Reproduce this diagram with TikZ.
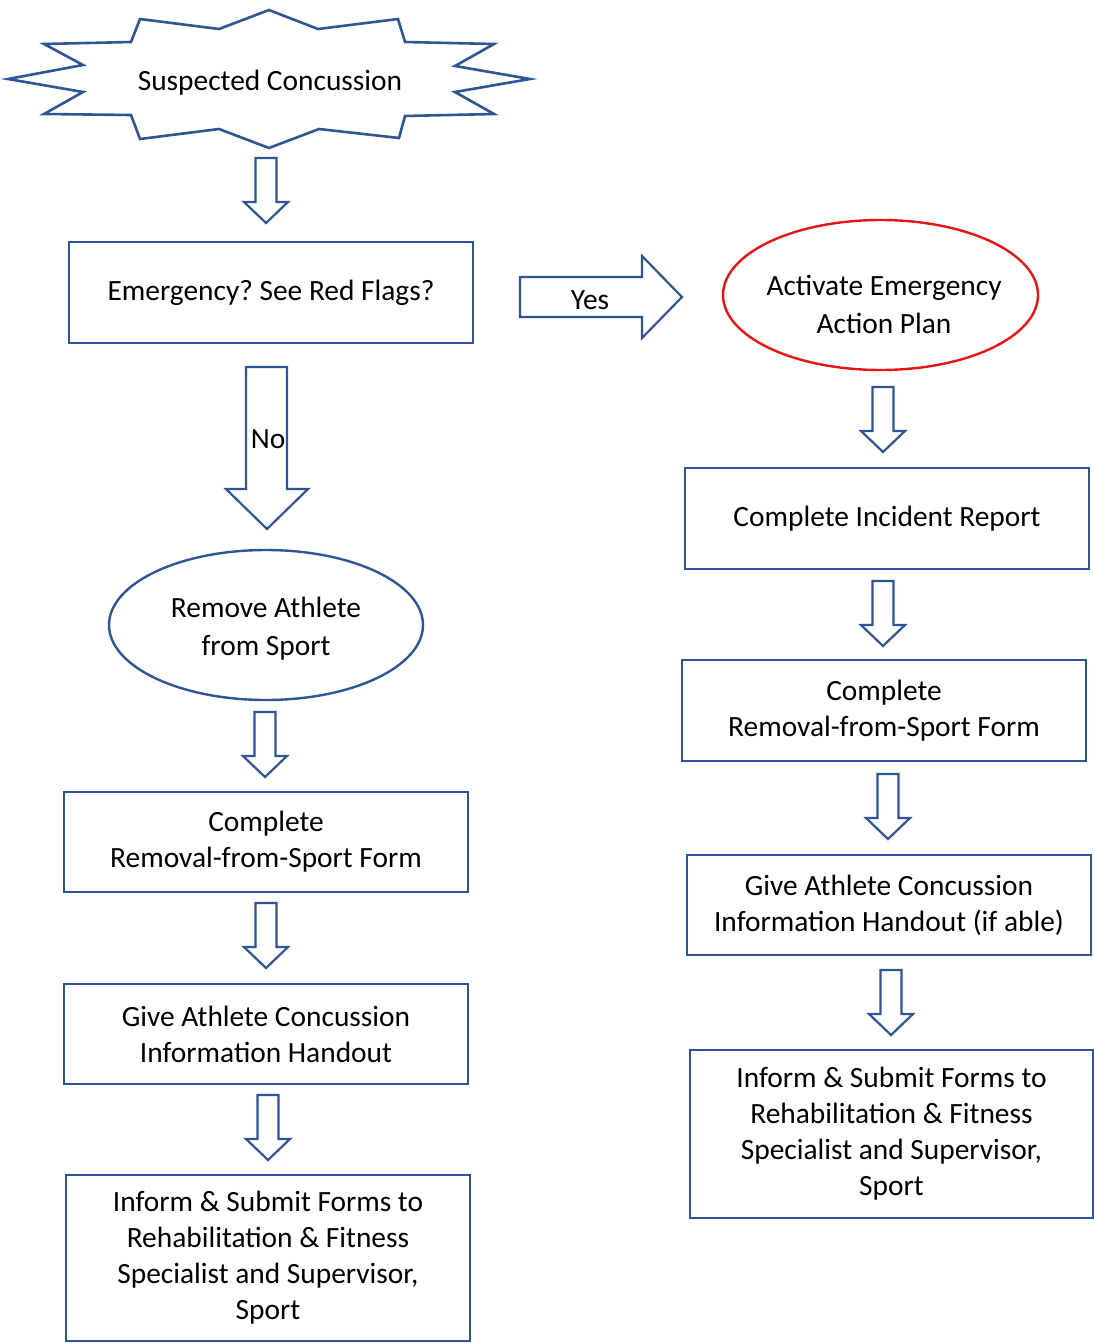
\documentclass[tikz,border=0pt]{standalone}
\usepackage{fontspec}
\setmainfont{Carlito}
\frenchspacing

\definecolor{boxblue}{RGB}{47,85,151}
\definecolor{planred}{RGB}{235,20,20}

\tikzstyle{stepbox} = [draw=boxblue,line width=1.4pt,minimum width=202pt,align=center,font=\fontsize{14.7}{18}\selectfont]
\tikzstyle{ovaltext} = [align=center,font=\fontsize{14.7}{19}\selectfont]
\tikzstyle{oval} = [draw=boxblue,line width=1.2pt]
\tikzstyle{blockarrow} = [draw=boxblue,line width=1.1pt,fill=white,line join=miter]
\tikzstyle{label} = [font=\fontsize{14.7}{18}\selectfont]

\begin{document}
\begin{tikzpicture}[x=0.5pt,y=-0.5pt]
\useasboundingbox (0,0) rectangle (1093,1343);

% starting burst
\draw[blockarrow,line width=1.3pt,shift={(269,79)}]
	(0,-69) -- (49,-50) -- (129,-60) -- (136,-37) -- (225,-35) -- (186,-13) -- (261,0)
	-- (186,13) -- (225,35) -- (136,37) -- (130,59) -- (50,50) -- (0,69)
	-- (-50,50) -- (-129,60) -- (-138,36) -- (-225,35) -- (-186,13) -- (-261,0)
	-- (-186,-14) -- (-225,-35) -- (-138,-37) -- (-129,-60) -- (-50,-50) -- cycle;
\node[label] at (270,83) (start) {Suspected Concussion};

% left column
\node[stepbox,minimum height=50.5pt] at (271,292.5) (emerg) {Emergency? See Red Flags?};
\node[ovaltext] at (266,629) (remove) {Remove Athlete\\from Sport};
\draw[oval] (266,625) ellipse [x radius=157, y radius=75];
\node[stepbox,minimum height=50pt] at (266,842) (formL) {Complete\\Removal-from-Sport Form};
\node[stepbox,minimum height=50pt] at (266,1034) (handoutL) {Give Athlete Concussion\\Information Handout};
\node[stepbox,minimum height=83pt] at (268,1258) (informL) {Inform \& Submit Forms to\\Rehabilitation \& Fitness\\Specialist and Supervisor,\\Sport};

% right column
\node[ovaltext] at (884,304) (plan) {Activate Emergency\\Action Plan};
\draw[oval,draw=planred] (880.5,295) ellipse [x radius=157.5, y radius=75];
\node[stepbox,minimum height=50.5pt] at (887,518.5) (incident) {Complete Incident Report};
\node[stepbox,minimum height=50.5pt] at (884,710.5) (formR) {Complete\\Removal-from-Sport Form};
\node[stepbox,minimum height=50pt] at (889,905) (handoutR) {Give Athlete Concussion\\Information Handout (if able)};
\node[stepbox,minimum height=84pt,minimum width=201.5pt] at (891.5,1134) (informR) {Inform \& Submit Forms to\\Rehabilitation \& Fitness\\Specialist and Supervisor,\\Sport};

% small down arrows
\foreach \x/\y in {266/158, 265/712, 266/903, 268/1095, 883/387, 883/581, 888/774, 891/970} {
	\draw[blockarrow] (\x-10.5,\y) -- (\x+10.5,\y) -- (\x+10.5,\y+44) -- (\x+22,\y+44)
		-- (\x,\y+65) -- (\x-22,\y+44) -- (\x-10.5,\y+44) -- cycle;
}

% No arrow
\draw[blockarrow] (246,367) -- (287,367) -- (287,489) -- (308,489) -- (267,529)
	-- (226,489) -- (246,489) -- cycle;
\node[label] at (268,439) (no) {No};

% Yes arrow
\draw[blockarrow] (520,277) -- (642,277) -- (642,256) -- (682,297) -- (642,338)
	-- (642,317) -- (520,317) -- cycle;
\node[label] at (590,300) (yes) {Yes};
\end{tikzpicture}
\end{document}
